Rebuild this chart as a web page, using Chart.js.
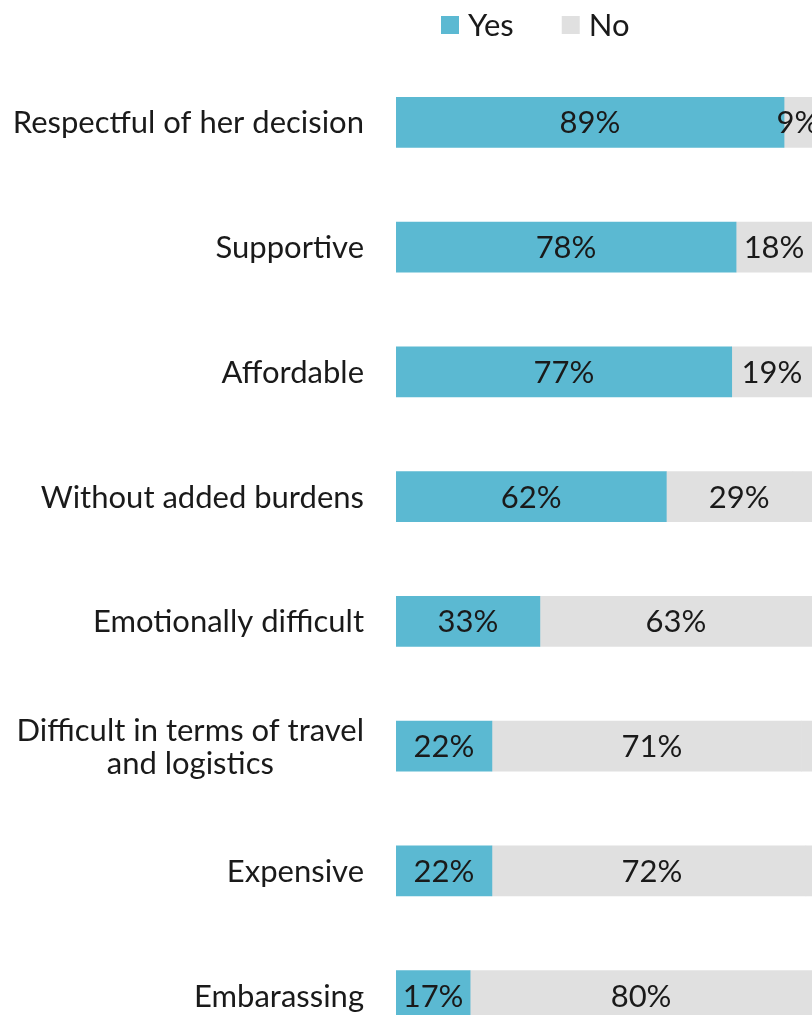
<!DOCTYPE html>
<html>
<head>
<meta charset="utf-8">
<script src="https://cdn.jsdelivr.net/npm/chart.js@4.4.1/dist/chart.umd.min.js"></script>
<style>
  html, body { margin: 0; padding: 0; background: #fff; overflow: hidden; }
  #wrap { width: 832px; height: 1058px; }
</style>
</head>
<body>
<div id="wrap"><canvas id="bars"></canvas></div>
<script>
const categories = [
  'Respectful of her decision',
  'Supportive',
  'Affordable',
  'Without added burdens',
  'Emotionally difficult',
  ['Difficult in terms of travel', 'and logistics'],
  'Expensive',
  'Embarassing'
];
const seriesNames = ['Yes', 'No'];
const yesValues = [89, 78, 77, 62, 33, 22, 22, 17];
const noValues = [9, 18, 19, 29, 63, 71, 72, 80];
// grey share past the "No" value, it runs off the right edge of the page
const restValues = [2, 4, 4, 9, 4, 7, 6, 3];

const FONT = 'Lato';
const TEXT = '#1a1a1a';
const BLUE = '#5bb9d2';
const GREY = '#e0e0e0';
const VIEW_RIGHT = 812; // page is clipped here

// bar values, category labels and the legend are painted here
const textPlugin = {
  id: 'textPlugin',
  afterDatasetsDraw(chart) {
    const ctx = chart.ctx;
    ctx.save();
    ctx.fillStyle = TEXT;
    ctx.textBaseline = 'middle';
    ctx.textAlign = 'center';
    ctx.font = '31px ' + FONT;

    const yesBars = chart.getDatasetMeta(0).data;
    const noBars = chart.getDatasetMeta(1).data;
    const restBars = chart.getDatasetMeta(2).data;
    yesBars.forEach((bar, j) => {
      ctx.fillText(yesValues[j] + '%', (bar.base + bar.x) / 2, bar.y + 1);
    });
    noBars.forEach((bar, j) => {
      let r = Math.min(restBars[j].x, VIEW_RIGHT);
      ctx.fillText(noValues[j] + '%', (bar.base + r) / 2, bar.y + 1);
    });

    const yScale = chart.scales.y;
    categories.forEach((c, i) => {
      const lines = Array.isArray(c) ? c : [c];
      const w = Math.max(...lines.map(s => ctx.measureText(s).width));
      const cx = yScale.right - 32 - w / 2;
      const yc = yScale.getPixelForTick(i);
      lines.forEach((s, k) => {
        ctx.fillText(s, cx, yc + 1 + (k - (lines.length - 1) / 2) * 33);
      });
    });

    // legend
    ctx.textAlign = 'left';
    let x = 441;
    chart.data.datasets.slice(0, 2).forEach(ds => {
      ctx.fillStyle = ds.backgroundColor;
      ctx.fillRect(x, 16, 18, 18);
      ctx.fillStyle = TEXT;
      ctx.fillText(ds.label, x + 27, 26);
      x += 27 + ctx.measureText(ds.label).width + 48;
    });
    ctx.restore();
  }
};

new Chart(document.getElementById('bars').getContext('2d'), {
  type: 'bar',
  data: {
    labels: categories,
    datasets: [
      { label: seriesNames[0], data: yesValues, backgroundColor: BLUE, borderWidth: 0, barThickness: 50 },
      { label: seriesNames[1], data: noValues, backgroundColor: GREY, borderWidth: 0, barThickness: 50 },
      { label: '', data: restValues, backgroundColor: GREY, borderWidth: 0, barThickness: 50 }
    ]
  },
  options: {
    indexAxis: 'y',
    responsive: true,
    maintainAspectRatio: false,
    animation: false,
    layout: { padding: { top: 60, left: 0, right: 0, bottom: 0 } },
    plugins: {
      legend: { display: false },
      tooltip: { enabled: false }
    },
    scales: {
      x: {
        stacked: true,
        display: false,
        min: 0,
        max: 100
      },
      y: {
        stacked: true,
        grid: { display: false },
        border: { display: false },
        ticks: { display: false },
        afterFit(scale) { scale.width = 396; }
      }
    }
  },
  plugins: [textPlugin]
});
</script>
</body>
</html>
